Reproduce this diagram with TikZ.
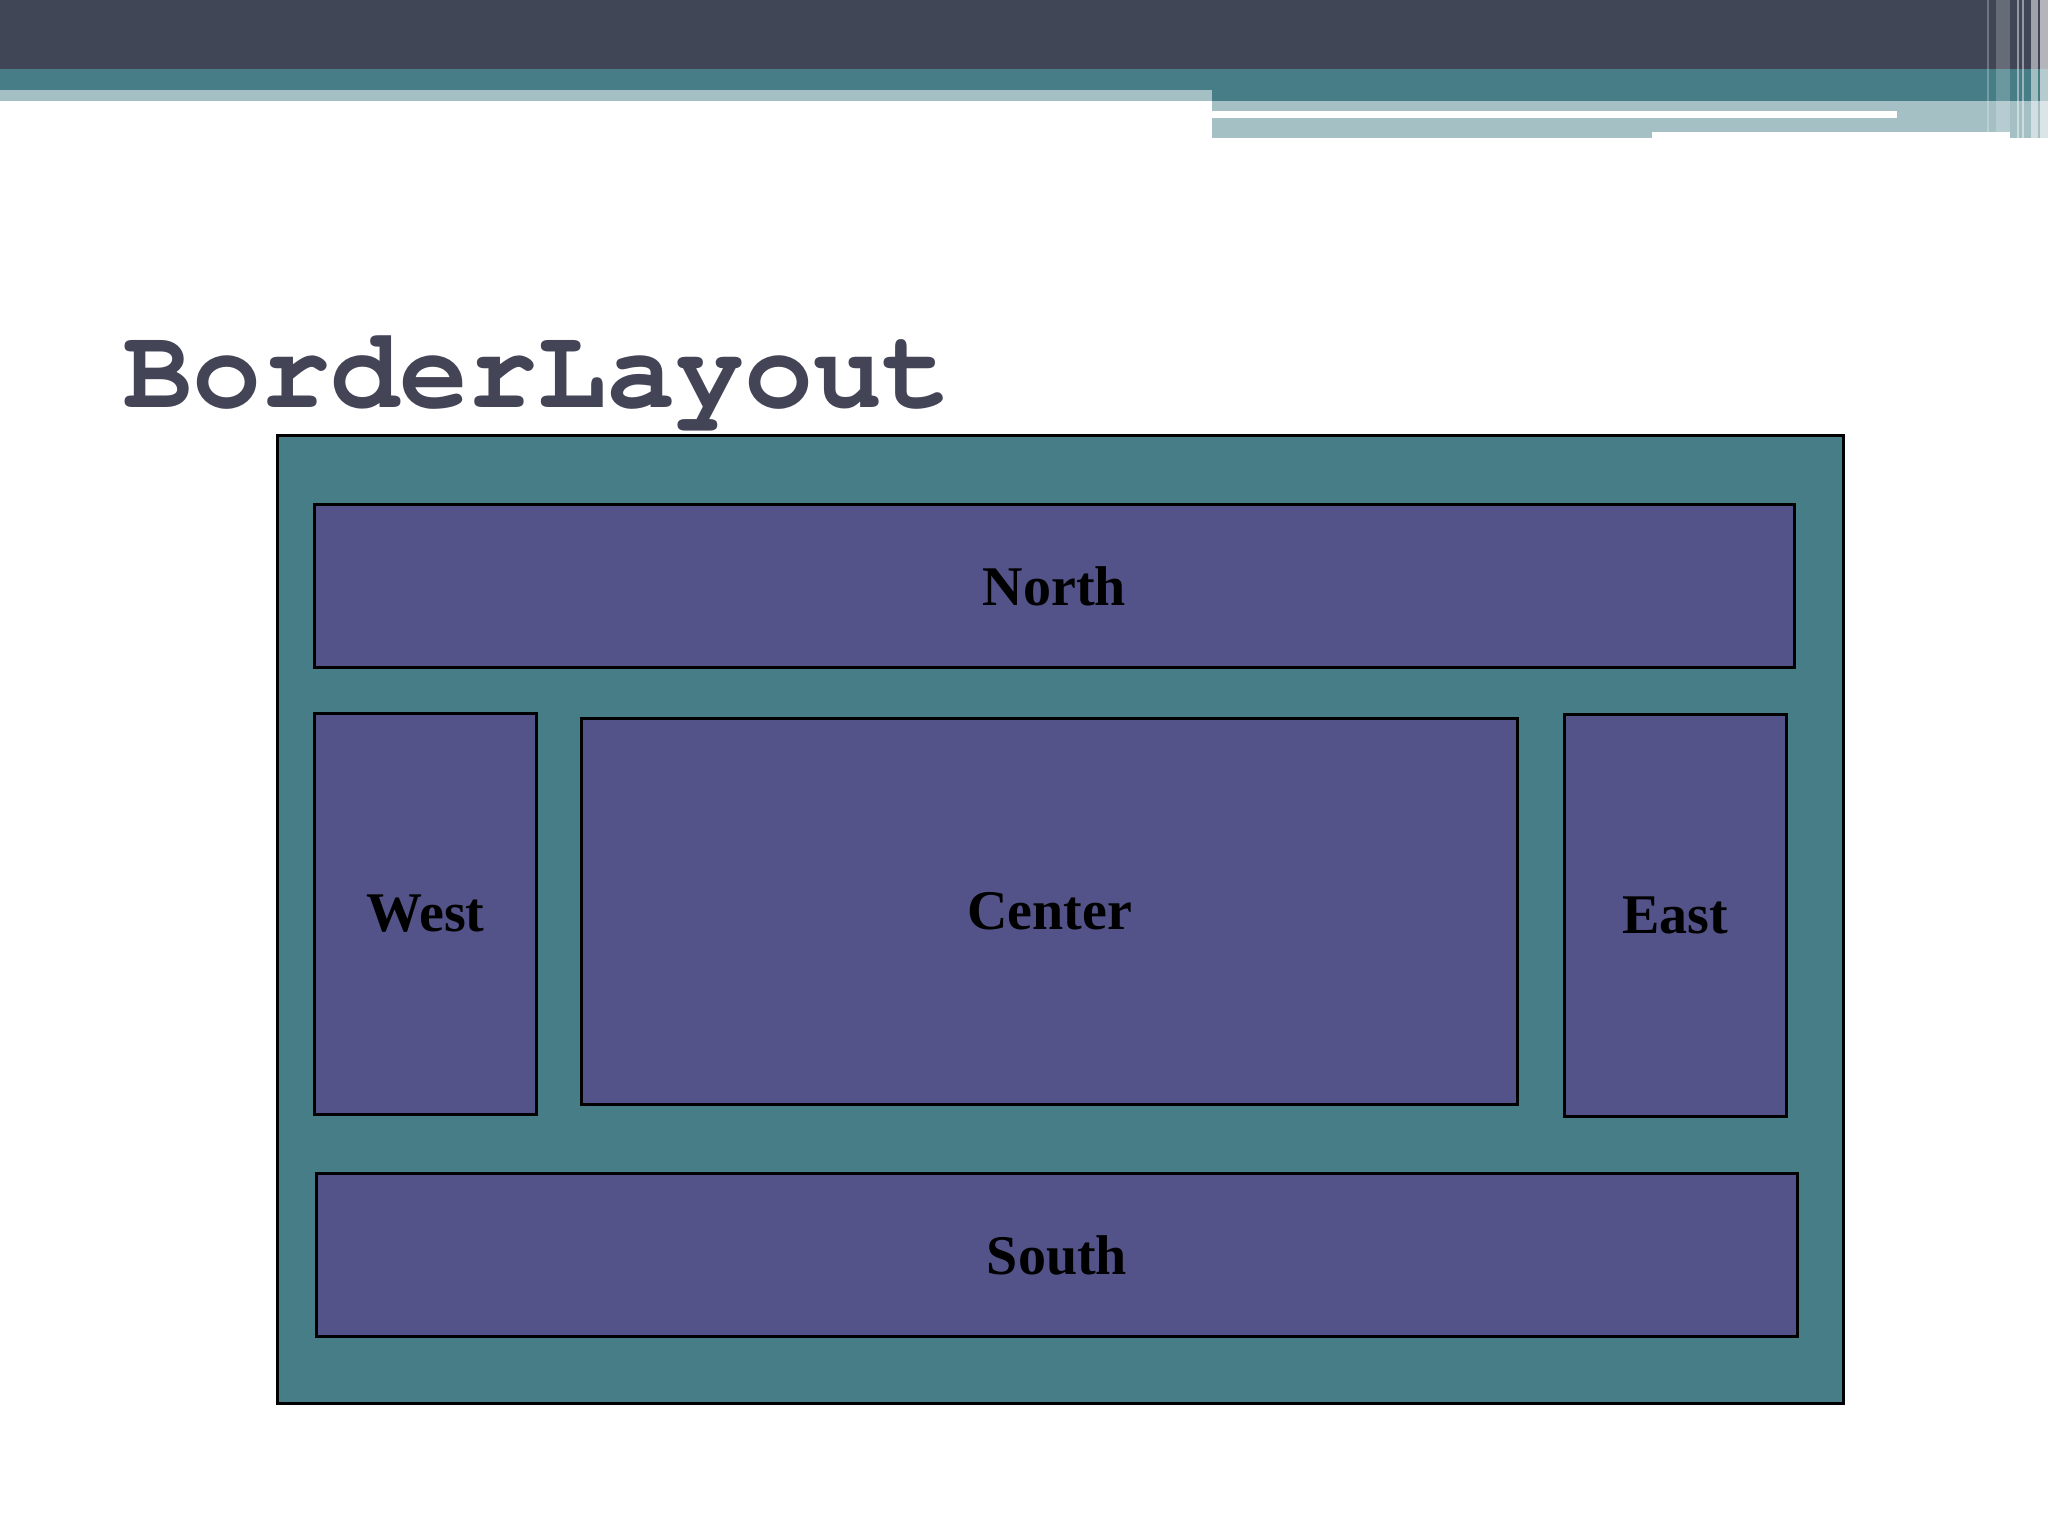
\documentclass[tikz,border=0pt]{standalone}
\usepackage{fontspec}
\setmainfont{Liberation Serif}
\newfontfamily\titlefont{texgyrecursor-bold.otf}
\definecolor{hdrdark}{HTML}{414657}
\definecolor{hdrteal}{HTML}{467D86}
\definecolor{hdrlight}{HTML}{A5C0C5}
\definecolor{frameteal}{HTML}{467D86}
\definecolor{panelpurple}{HTML}{535389}
\definecolor{titlecol}{HTML}{434456}
\tikzset{
  region/.style={draw=black, line width=3pt, fill=panelpurple, inner sep=0pt,
    font=\fontsize{56}{60}\selectfont\bfseries, text=black},
  outerframe/.style={draw=black, line width=3pt, fill=frameteal, inner sep=0pt},
}
\begin{document}
\begin{tikzpicture}[x=1pt,y=-1pt]
\useasboundingbox (0,0) rectangle (2048,1536);
\fill[white] (0,0) rectangle (2048,1536);
% header bars
\fill[hdrdark] (0,0) rectangle (2048,69);
\fill[hdrteal] (0,69) rectangle (2048,101);
\fill[hdrlight] (0,90) rectangle (1212,101);
\fill[hdrlight] (1212,101) rectangle (2048,132);
\fill[hdrlight] (1212,132) rectangle (1652,138);
\fill[hdrlight] (2010,132) rectangle (2048,138);
\fill[white] (1212,111) rectangle (1897,118);
% vertical stripes at right
\fill[white, opacity=0.25] (1987,0) rectangle (1989,132);
\fill[white, opacity=0.2] (1996,0) rectangle (2010,132);
\fill[white, opacity=0.45] (2017,0) rectangle (2019,138);
\fill[white, opacity=0.45] (2022,0) rectangle (2024,138);
\fill[white, opacity=0.5] (2031,0) rectangle (2038,138);
\fill[white, opacity=0.6] (2040,0) rectangle (2048,138);
% title
\node[anchor=base west, inner sep=0pt, text=titlecol,
  font=\titlefont\fontsize{115}{120}\selectfont] (title) at (123,407) {BorderLayout};
% outer frame
\node[outerframe, anchor=north west, minimum width=1566pt, minimum height=968pt] (frame) at (276,434) {};
% regions
\node[region, anchor=north west, minimum width=1480pt, minimum height=163pt] (north) at (313,503) {North};
\node[region, anchor=north west, minimum width=222pt, minimum height=401pt] (west) at (313,712) {West};
\node[region, anchor=north west, minimum width=936pt, minimum height=386pt] (center) at (580,717) {Center};
\node[region, anchor=north west, minimum width=222pt, minimum height=402pt] (east) at (1563,713) {East};
\node[region, anchor=north west, minimum width=1481pt, minimum height=163pt] (south) at (315,1172) {South};
\end{tikzpicture}
\end{document}
